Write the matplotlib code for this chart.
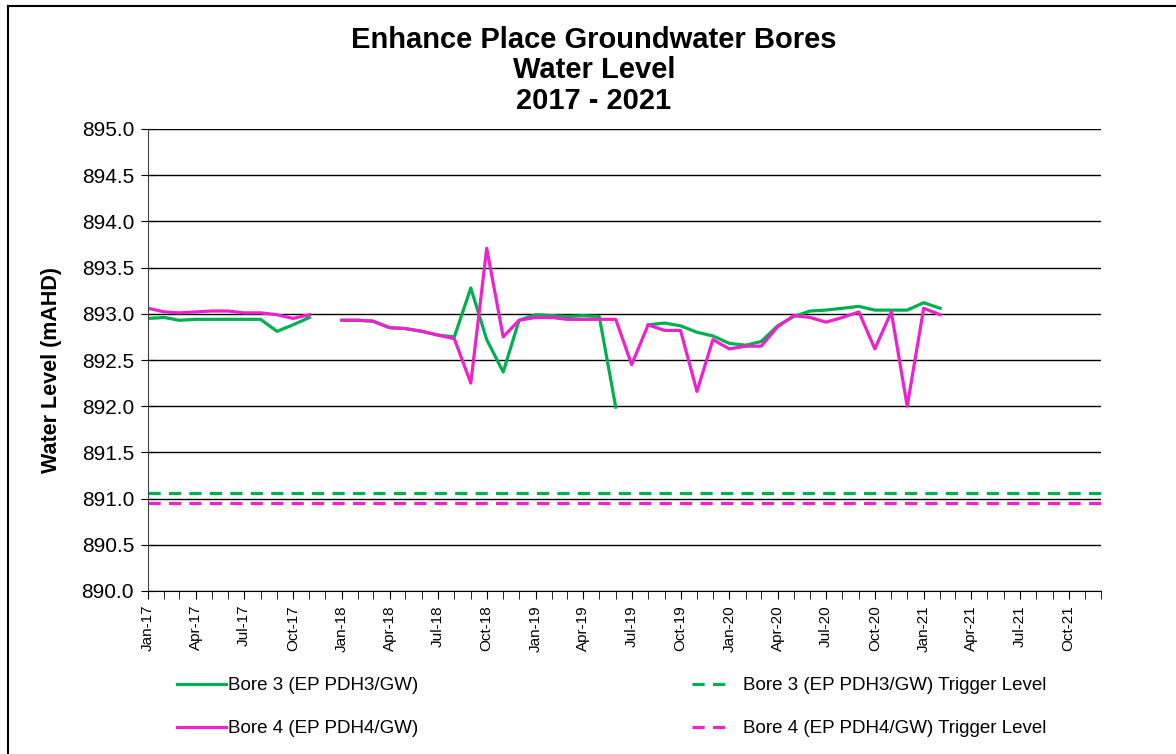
import numpy as np
import pandas as pd
import matplotlib
matplotlib.use('Agg')
import matplotlib.pyplot as plt
import matplotlib.dates as mdates
from matplotlib.lines import Line2D

plt.rcParams['font.family'] = ['Liberation Sans', 'DejaVu Sans']

# monthly readings, Jan-17 .. Feb-21 (NaN = no reading)
months = pd.date_range('2017-01-01', periods=50, freq='MS')

bore3 = [892.95, 892.96, 892.93, 892.94, 892.94, 892.94, 892.94, 892.94, 892.81, 892.88,
         892.96, np.nan, 892.93, 892.93, 892.92, 892.85, 892.84, 892.81, 892.77, 892.75,
         893.28, 892.72, 892.37, 892.93, 892.99, 892.98, 892.97, 892.98, 892.97, 891.99,
         np.nan, 892.88, 892.90, 892.87, 892.80, 892.76, 892.68, 892.66, 892.70, 892.87,
         892.97, 893.03, 893.04, 893.06, 893.08, 893.04, 893.04, 893.04, 893.12, 893.06]

bore4 = [893.06, 893.02, 893.01, 893.02, 893.03, 893.03, 893.01, 893.01, 892.99, 892.95,
         892.99, np.nan, 892.93, 892.93, 892.92, 892.85, 892.84, 892.81, 892.77, 892.73,
         892.25, 893.71, 892.75, 892.93, 892.96, 892.96, 892.94, 892.94, 892.94, 892.94,
         892.45, 892.88, 892.82, 892.82, 892.16, 892.72, 892.62, 892.65, 892.65, 892.86,
         892.98, 892.96, 892.91, 892.96, 893.02, 892.62, 893.02, 892.00, 893.06, 892.99]

trigger3 = 891.06
trigger4 = 890.95

green = '#00b050'
pink = '#ee22cc'

fig = plt.figure(figsize=(11.76, 7.54), dpi=100)
ax = fig.add_axes([148/1176, 1 - 591/754, (1101-148)/1176, (591-129)/754])

x0 = pd.Timestamp('2017-01-01')
x1 = pd.Timestamp('2021-12-01')

dash = (0, (3.8, 2.6))
l1, = ax.plot(months, bore3, color=green, lw=2.3, label='Bore 3 (EP PDH3/GW)')
l2, = ax.plot(months, bore4, color=pink, lw=2.3, label='Bore 4 (EP PDH4/GW)')
l3 = ax.axhline(trigger3, color=green, lw=2.3, ls=dash, label='Bore 3 (EP PDH3/GW) Trigger Level')
l4 = ax.axhline(trigger4, color=pink, lw=2.3, ls=dash, label='Bore 4 (EP PDH4/GW) Trigger Level')

ax.set_xlim(x0, x1)
ax.set_ylim(890, 895)
ax.set_yticks(np.arange(890, 895.01, 0.5))
ax.yaxis.set_major_formatter(plt.FormatStrFormatter('%.1f'))
ax.grid(axis='y', color='black', lw=1)
ax.set_axisbelow(True)

ax.xaxis.set_major_locator(mdates.MonthLocator(bymonth=[1, 4, 7, 10]))
ax.xaxis.set_minor_locator(mdates.MonthLocator())
ax.xaxis.set_major_formatter(mdates.DateFormatter('%b-%y'))
ax.tick_params(axis='x', which='both', direction='out', length=6, color='black', labelsize=11, rotation=90, pad=4)
ax.tick_params(axis='y', direction='inout', length=10, labelsize=15, pad=5)

for s in ['top', 'right']:
    ax.spines[s].set_visible(False)
ax.spines['left'].set_color('#404040')
ax.spines['bottom'].set_color('black')

ax.set_ylabel('Water Level (mAHD)', fontsize=15.5, fontweight='bold')
ax.yaxis.set_label_coords((62 - 148) / (1101 - 148), 0.478)

for txt, yp in [('Enhance Place Groundwater Bores', 40), ('Water Level', 70), ('2017 - 2021', 101)]:
    fig.text(594/1176, 1 - yp/754, txt, ha='center', va='center', fontsize=21, fontweight='bold')

leg_kw = dict(frameon=False, fontsize=13.5, labelspacing=1.38, borderaxespad=0, borderpad=0)
fig.legend([l1, l2], [l1.get_label(), l2.get_label()], loc='upper left',
           bbox_to_anchor=(177/1176, 1 - 677/754), handlelength=2.6, handletextpad=0.1, **leg_kw)
fig.legend([l3, l4], [l3.get_label(), l4.get_label()], loc='upper left',
           bbox_to_anchor=(692/1176, 1 - 677/754), handlelength=2.2, handletextpad=0.5, **leg_kw)

# outer chart border
fig.add_artist(Line2D([8/1176, 8/1176], [0, 1 - 6/754], transform=fig.transFigure, color='black', lw=1.5))
fig.add_artist(Line2D([8/1176, 1], [1 - 6/754, 1 - 6/754], transform=fig.transFigure, color='black', lw=1.5))

fig.savefig('out.png', dpi=100)
